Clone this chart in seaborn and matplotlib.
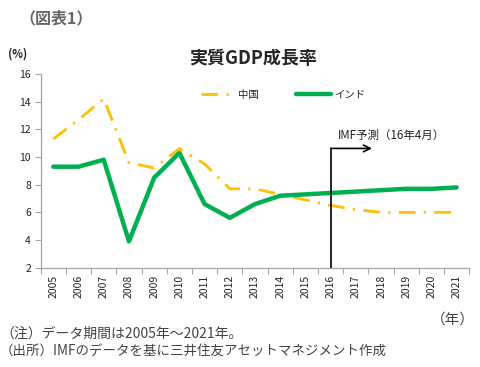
import matplotlib
matplotlib.use("Agg")
import matplotlib.pyplot as plt
import seaborn as sns
import pandas as pd
import numpy as np

years = [str(y) for y in range(2005, 2022)]
china = [11.3, 12.7, 14.2, 9.6, 9.2, 10.6, 9.5, 7.7, 7.7, 7.3, 6.9, 6.5, 6.2, 6.0, 6.0, 6.0, 6.0]
india = [9.3, 9.3, 9.8, 3.9, 8.5, 10.3, 6.6, 5.6, 6.6, 7.2, 7.3, 7.4, 7.5, 7.6, 7.7, 7.7, 7.8]
series_names = ["中国", "インド"]
yticks = [2, 4, 6, 8, 10, 12, 14, 16]

sns.set_theme(style="white")
plt.rcParams["font.family"] = ["Noto Sans CJK JP", "DejaVu Sans"]

fig = plt.figure(figsize=(4.8, 3.67), dpi=100)
ax = fig.add_axes([0.0848, 0.2706, 0.8929, 0.5278])

pos = np.arange(len(years))
df = pd.DataFrame({"pos": pos, "china": china, "india": india})

sns.lineplot(data=df, x="pos", y="china", ax=ax, color="#FFC000", lw=2.0,
             label=series_names[0], dashes=False)
ax.lines[-1].set_dashes((6, 3, 0.8, 3))
sns.lineplot(data=df, x="pos", y="india", ax=ax, color="#00B050", lw=3.2,
             label=series_names[1])

ax.set_xlim(-0.5, len(years) - 0.5)
ax.set_ylim(2, 16)
ax.set_yticks(yticks)
ax.set_yticklabels([str(v) for v in yticks], fontsize=7.5, color="#222222")
ax.set_xticks(pos)
ax.set_xticklabels(years, rotation=90, fontsize=7.5, color="#222222")
ax.set_xticks(np.arange(-0.5, len(years)), minor=True)
ax.tick_params(axis="x", which="major", length=0, pad=5)
ax.tick_params(axis="x", which="minor", length=4, width=0.8, color="#A6A6A6", direction="out", bottom=True)
ax.tick_params(axis="y", length=4, width=0.8, color="#A6A6A6", direction="out", left=True, pad=3)
ax.set_xlabel("")
ax.set_ylabel("")
for s in ["top", "right"]:
    ax.spines[s].set_visible(False)
for s in ["left", "bottom"]:
    ax.spines[s].set_color("#A6A6A6")
    ax.spines[s].set_linewidth(0.9)

# forecast marker
x16 = years.index("2016")
ax.plot([x16, x16], [2, 10.62], color="black", lw=1.2, clip_on=False)
ax.annotate("", xy=(x16 + 1.75, 10.62), xytext=(x16 - 0.03, 10.62),
            arrowprops=dict(arrowstyle="->", color="black", lw=1.2, mutation_scale=12))
ax.text(x16 + 0.28, 11.55, "IMF予測（16年4月）", fontsize=8.3, va="center", ha="left", color="#222222")

leg = ax.legend(loc="center left", bbox_to_anchor=(0.418, 0.741), bbox_transform=fig.transFigure,
                ncol=2, frameon=False, fontsize=7.5, handlelength=3.3, columnspacing=3.6,
                handletextpad=0.3, borderaxespad=0, borderpad=0)

fig.text(0.527, 0.841, "実質GDP成長率", fontsize=13, fontweight="bold", ha="center", va="center")
fig.text(0.04, 0.951, "（図表1）", fontsize=11.5, fontweight="bold", ha="left", va="center", color="#666666")
fig.text(0.016, 0.853, "(%)", fontsize=8, fontweight="bold", ha="left", va="center", color="#222222")
fig.text(0.99, 0.128, "（年）", fontsize=10.5, ha="right", va="center", color="#444444")
fig.text(0.0, 0.09, "（注）データ期間は2005年～2021年。", fontsize=10, ha="left", va="center", color="#444444")
fig.text(0.0, 0.041, "（出所）IMFのデータを基に三井住友アセットマネジメント作成", fontsize=9.7, ha="left", va="center", color="#444444")

fig.savefig("out.png", dpi=100)
